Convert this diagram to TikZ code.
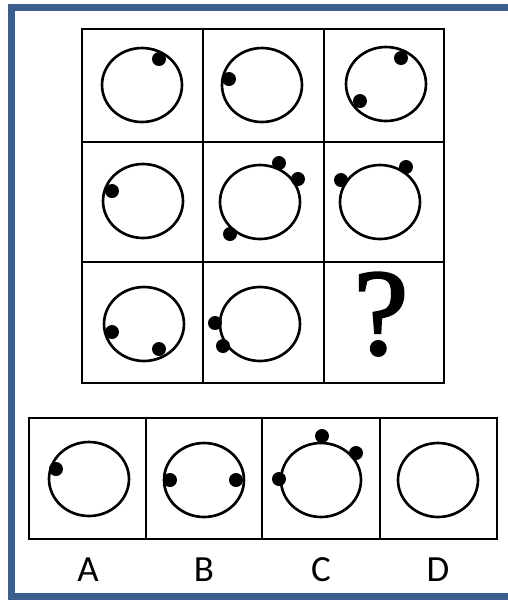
\documentclass[tikz,border=0pt]{standalone}
\usepackage{fontspec}
\setmainfont{Liberation Serif}
\newfontfamily\labelfont{Carlito}
\newfontfamily\qmarkfont[FakeBold=2]{Liberation Serif}
\usetikzlibrary{positioning}
\definecolor{framebl}{RGB}{59,94,140}
\newcommand{\ring}[2]{\draw[ringline] (#1,#2) ellipse [x radius=0.8cm, y radius=0.74cm];}
\newcommand{\bead}[2]{\fill (#1,#2) circle [radius=0.14cm];}

\begin{document}
\begin{tikzpicture}[x=0.02cm,y=-0.02cm,
  ringline/.style={line width=1.5pt},
  gridline/.style={line width=1.1pt},
  answerlab/.style={font=\labelfont\fontsize{21}{21}\selectfont,anchor=base,inner sep=0pt}]
\useasboundingbox (0,0) rectangle (508,600);
% outer frame
\draw[framebl,line width=4pt] (11.5,7.5) rectangle (540,596.5);
% 3x3 grid
\draw[gridline] (82,29) rectangle (444,383);
\foreach \gx in {203,324} \draw[gridline] (\gx,29) -- (\gx,383);
\foreach \gy in {142,262} \draw[gridline] (82,\gy) -- (444,\gy);
% answer row
\draw[gridline] (29,418) rectangle (497,539);
\foreach \gx in {146,262,380} \draw[gridline] (\gx,418) -- (\gx,539);
% rings
\foreach \cx/\cy in {142/85,262/85,386/84,
  143/201,260/202,380/202,
  144/324,260/324,
  89/479,204/480,321/480,438/480}{
  \ring{\cx}{\cy}
}
% beads
\foreach \bx/\by in {159/59,229/79,401/58,360/101,
  112/191,279/163,298/179,230/234,341/180,406/167,
  112/332,159/349,215/323,223/346,
  56/469,170/480,236/480,322/436,356/453,279/479}{
  \bead{\bx}{\by}
}
\node[font=\qmarkfont\fontsize{70}{70}\selectfont,anchor=base,inner sep=0pt] (qmark) at (381,354) {?};
\foreach \lab/\lx in {A/88,B/204,C/321,D/438}
  \node[answerlab] (lab\lab) at (\lx,581.5) {\lab};
\end{tikzpicture}
\end{document}
